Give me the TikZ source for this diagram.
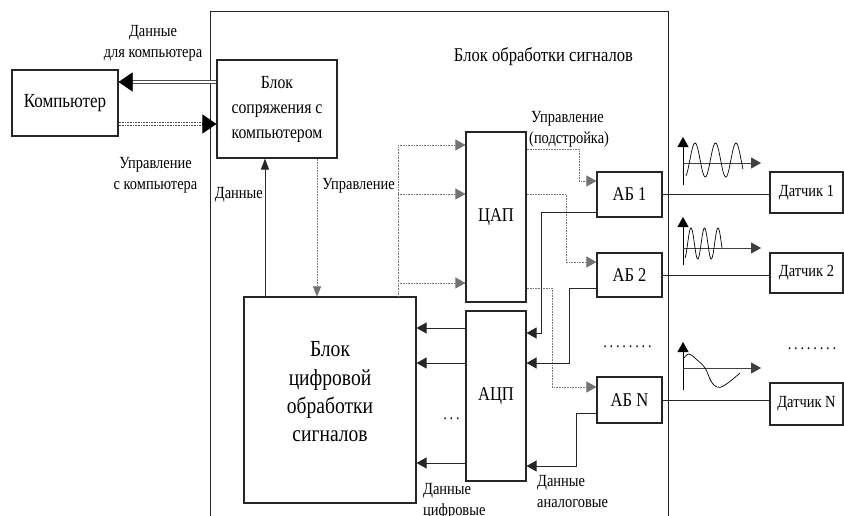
\documentclass[tikz,border=0pt]{standalone}
\usepackage{fontspec}
\setmainfont{Liberation Serif}[FakeStretch=0.85]
\usetikzlibrary{arrows.meta,calc}
\newcommand\mydotrow[1]{\foreach \i in {1,...,#1}{\ifnum\i>1\kern2.8pt\fi.}}
\begin{document}
\begin{tikzpicture}[x=1pt,y=-1pt,
  blk/.style={draw=black!85, line width=1.1pt, fill=white, inner sep=1pt, align=center},
  lbl/.style={font=\fontsize{17}{21}\selectfont, inner sep=0pt},
  sol/.style={draw=black!85, line width=0.9pt},
  ctrl/.style={draw=black!55, line width=0.6pt, densely dotted},
  tip/.style={-{Triangle[length=10pt,width=11pt]}},
  bigtip/.style={-{Triangle[length=14pt,width=19pt]}}
]
\useasboundingbox (0,0) rectangle (844,515);
\fill[white] (0,0) rectangle (844,515);

% outer block
\node[blk, anchor=north west, minimum width=458pt, minimum height=525pt] (outer) at (210,11) {};
\node[lbl, font=\fontsize{19.5}{24}\selectfont] (title) at (543.5,56.5) {Блок обработки сигналов};

% main blocks
\node[blk, minimum width=106pt, minimum height=66pt, font=\fontsize{20}{24}\selectfont] (comp) at (65,103) {Компьютер};
\node[blk, minimum width=120pt, minimum height=98pt, font=\fontsize{18.5}{25}\selectfont] (iface) at (277,109) {Блок\\сопряжения с\\компьютером};
\node[blk, minimum width=172pt, minimum height=206pt] (dsp) at (330,400) {};
\node[align=center, inner sep=0pt, font=\fontsize{23}{28.3}\selectfont] (dsptxt) at (330,392) {Блок\\цифровой\\обработки\\сигналов};
\node[blk, minimum width=60pt, minimum height=170pt, font=\fontsize{19.5}{24}\selectfont] (dac) at (496,217) {ЦАП};
\node[blk, minimum width=60pt, minimum height=170pt, font=\fontsize{19.5}{24}\selectfont] (adc) at (496,396) {АЦП};
\node[blk, minimum width=65pt, minimum height=45pt, font=\fontsize{19.5}{22}\selectfont] (ab1) at (629.5,194.5) {АБ 1};
\node[blk, minimum width=65pt, minimum height=44pt, font=\fontsize{19.5}{22}\selectfont] (ab2) at (629.5,275) {АБ 2};
\node[blk, minimum width=65pt, minimum height=46pt, font=\fontsize{19.5}{22}\selectfont] (abN) at (629.5,400) {АБ N};
\node[blk, minimum width=73pt, minimum height=41pt, font=\fontsize{17}{20}\selectfont] (s1) at (806.5,192.5) {Датчик 1};
\node[blk, minimum width=73pt, minimum height=40pt, font=\fontsize{17}{20}\selectfont] (s2) at (806.5,273) {Датчик 2};
\node[blk, minimum width=73pt, minimum height=42pt, font=\fontsize{17}{20}\selectfont] (sN) at (806.5,404) {Датчик N};

% computer <-> interface
\draw[draw=black!70, line width=0.6pt, double=white, double distance=2.6pt, shorten >=12pt] (iface.west |- 0,82) -- (comp.east |- 0,82);
\draw[bigtip, line width=0.6pt] ($(comp.east |- 0,82)+(14,0)$) -- (comp.east |- 0,82);
\draw[draw=black!70, line width=0.6pt, densely dotted, double=white, double distance=2.6pt, shorten >=12pt] (comp.east |- 0,124) -- (iface.west |- 0,124);
\draw[bigtip, line width=0.6pt] ($(iface.west |- 0,124)+(-14,0)$) -- (iface.west |- 0,124);

\node[lbl, align=center] (l1) at (153,43.5) {Данные\\для компьютера};
\node[lbl, align=center] (l3) at (155.5,175.5) {Управление\\с компьютера};

% interface <-> dsp
\draw[sol, -{Triangle[length=11pt,width=8pt]}] (265,0 |- dsp.north) -- (265,0 |- iface.south);
\node[lbl, anchor=east] (l5) at (263,194.5) {Данные};
\draw[ctrl, -{Triangle[length=10pt,width=8pt]}] (317,0 |- iface.south) -- (317,0 |- dsp.north);
\node[lbl] (l6) at (358.5,185.5) {Управление};

% control bus to DAC
\draw[ctrl] (398,0 |- dsp.north) -- (398,145);
\draw[ctrl, tip] (398,145) -- (dac.west |- 0,145);
\draw[ctrl, tip] (398,194) -- (dac.west |- 0,194);
\draw[ctrl, tip] (398,283) -- (dac.west |- 0,283);

% DAC -> AB
\node[lbl, align=left, anchor=west] (l7) at (529,129.5) {\hspace{2pt}Управление\\(подстройка)};
\draw[ctrl, tip] (dac.east |- 0,149) -- (579,149) -- (579,181) -- (ab1.west |- 0,181);
\draw[ctrl, tip] (dac.east |- 0,194) -- (566,194) -- (566,262) -- (ab2.west |- 0,262);
\draw[ctrl, tip] (dac.east |- 0,288) -- (552,288) -- (552,387) -- (abN.west |- 0,387);

% AB -> ADC
\draw[sol, tip] (ab1.west |- 0,212) -- (541,212) -- (541,333) -- (adc.east |- 0,333);
\draw[sol, tip] (ab2.west |- 0,288) -- (569,288) -- (569,363) -- (adc.east |- 0,363);
\draw[sol, tip] (abN.west |- 0,413) -- (576,413) -- (576,466) -- (adc.east |- 0,466);
\node[lbl, align=left, anchor=west] (l8) at (537,492) {Данные\\аналоговые};

% ADC -> DSP
\draw[sol, tip] (adc.west |- 0,328) -- (dsp.east |- 0,328);
\draw[sol, tip] (adc.west |- 0,363) -- (dsp.east |- 0,363);
\draw[sol, tip] (adc.west |- 0,463) -- (dsp.east |- 0,463);
\node[lbl, anchor=base] (d1) at (451.5,419) {\mydotrow{3}};
\node[lbl, align=left, anchor=west] (l9) at (423,501) {Данные\\цифровые};

% AB -> sensors
\draw[sol, line width=0.7pt] (ab1.east) -- (s1.west |- ab1.east);
\draw[sol, line width=0.7pt] (ab2.east) -- (s2.west |- ab2.east);
\draw[sol, line width=0.7pt] (abN.east) -- (sN.west |- abN.east);
\node[lbl, anchor=base] (d2) at (627.5,347) {\mydotrow{8}};
\node[lbl, anchor=base] (d3) at (812,349) {\mydotrow{8}};

% waveforms
\begin{scope}[line width=0.9pt]
\coordinate (o1) at (683,163);
\draw[tip] (683,185) -- (683,137);
\draw[tip, draw=black!75] (o1) -- (761,163);
\draw[line width=0.7pt] plot[domain=686:743, samples=90, smooth] (\x, {160-17*cos((\x-695)/20.5*360)});
\coordinate (o2) at (683,248);
\draw[tip] (683,265) -- (683,217);
\draw[tip, draw=black!75] (o2) -- (761,248);
\draw[line width=0.7pt] plot[domain=685:722, samples=90, smooth] (\x, {243.5-15.5*cos((\x-691)/13.5*360)});
\coordinate (o3) at (683,368);
\draw[tip] (683,390) -- (683,342);
\draw[tip, draw=black!75] (o3) -- (761,368);
\draw[line width=0.7pt] plot[smooth, tension=0.7] coordinates {(684,358) (689,354) (696,359) (705,368) (711,381) (717,387) (725,385) (740,373)};
\end{scope}
\end{tikzpicture}
\end{document}
